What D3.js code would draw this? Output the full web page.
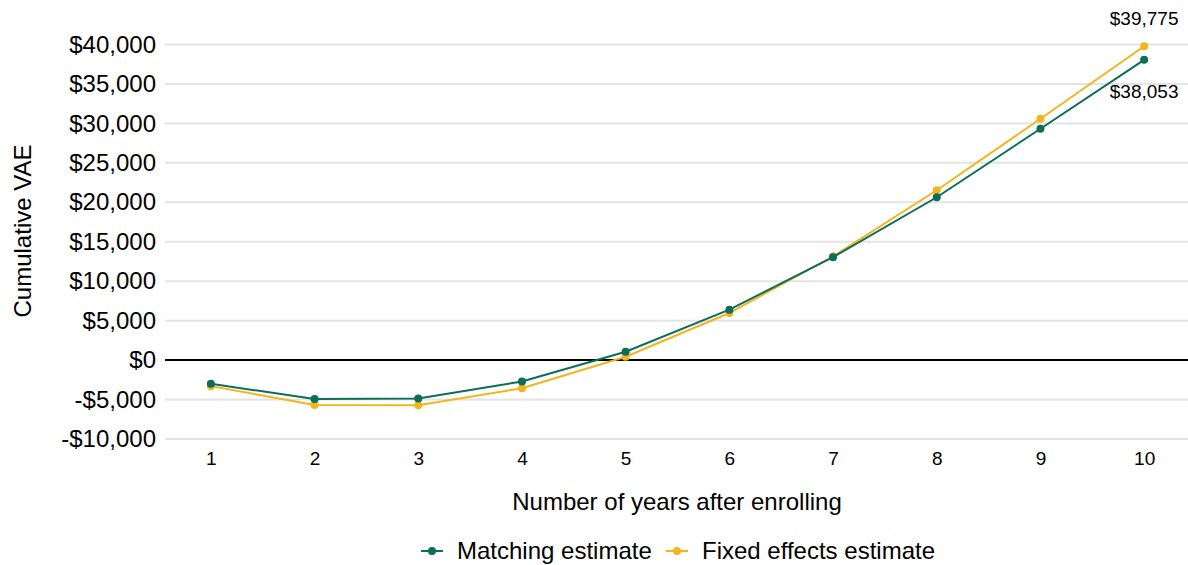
<!DOCTYPE html>
<html>
<head>
<meta charset="utf-8">
<script src="https://cdn.jsdelivr.net/npm/d3@7/dist/d3.min.js"></script>
<style>
  html, body { margin: 0; padding: 0; background: #ffffff; }
  svg { display: block; font-family: Arial, "Liberation Sans", sans-serif; }
</style>
</head>
<body>
<svg id="chart" width="1188" height="565"></svg>
<script>
// Years after enrolling
const years = [1, 2, 3, 4, 5, 6, 7, 8, 9, 10];
// Cumulative value-added estimates (dollars)
const matchingValues = [-3010, -4915, -4870, -2710, 1060, 6390, 13050, 20640, 29320, 38053];
const fixedValues = [-3300, -5680, -5720, -3560, 420, 5970, 13150, 21530, 30590, 39775];
const yTicks = [-10000, -5000, 0, 5000, 10000, 15000, 20000, 25000, 30000, 35000, 40000];
const seriesNames = ["Matching estimate", "Fixed effects estimate"];
const seriesColors = ["#0b6d5a", "#f2b61d"];

const svg = d3.select("#chart");

const x = d3.scalePoint().domain(years).range([159, 1196]).padding(0.5);
const y = d3.scaleLinear().domain([-10000, 40000]).range([439, 44.5]);

const money = v => (v < 0 ? "-$" : "$") + d3.format(",")(Math.abs(v));

// Horizontal gridlines
svg.append("g")
  .selectAll("line")
  .data(yTicks.filter(t => t !== 0))
  .join("line")
  .attr("x1", 165).attr("x2", 1188)
  .attr("y1", d => y(d)).attr("y2", d => y(d))
  .attr("stroke", "#e4e4e4").attr("stroke-width", 2);

// Zero baseline
svg.append("line")
  .attr("x1", 165).attr("x2", 1188)
  .attr("y1", y(0)).attr("y2", y(0))
  .attr("stroke", "#000").attr("stroke-width", 2);

// Y axis labels
const yAxis = d3.axisLeft(y).tickValues(yTicks).tickFormat(money).tickSize(0).tickPadding(0);
const gy = svg.append("g").attr("transform", "translate(156,0)").call(yAxis);
gy.select(".domain").remove();
gy.selectAll("text").attr("font-size", 24).attr("fill", "#000")
  .attr("font-family", "Arial, 'Liberation Sans', sans-serif");

// X axis labels
const xAxis = d3.axisBottom(x).tickSize(0).tickPadding(0);
const gx = svg.append("g").attr("transform", "translate(0,451)").call(xAxis);
gx.select(".domain").remove();
gx.selectAll("text").attr("font-size", 19).attr("fill", "#000")
  .attr("font-family", "Arial, 'Liberation Sans', sans-serif");

// Axis titles
svg.append("text")
  .attr("x", 677).attr("y", 510)
  .attr("text-anchor", "middle").attr("font-size", 24)
  .text("Number of years after enrolling");

svg.append("text")
  .attr("transform", "translate(31,231) rotate(-90)")
  .attr("text-anchor", "middle").attr("font-size", 24)
  .text("Cumulative VAE");

// Lines and markers: fixed effects first, matching on top
const line = d3.line().x((d, i) => x(years[i])).y(d => y(d));
const series = [
  { name: seriesNames[1], values: fixedValues, color: seriesColors[1] },
  { name: seriesNames[0], values: matchingValues, color: seriesColors[0] }
];

series.forEach(s => {
  svg.append("path")
    .datum(s.values)
    .attr("d", line)
    .attr("fill", "none")
    .attr("stroke", s.color)
    .attr("stroke-width", 2);
  svg.append("g")
    .selectAll("circle")
    .data(s.values)
    .join("circle")
    .attr("cx", (d, i) => x(years[i]))
    .attr("cy", d => y(d))
    .attr("r", 4)
    .attr("fill", s.color);
});

// End-point value labels
const last = years.length - 1;
svg.append("text")
  .attr("x", x(years[last])).attr("y", y(fixedValues[last]) - 21)
  .attr("text-anchor", "middle").attr("font-size", 19)
  .text(money(fixedValues[last]));
svg.append("text")
  .attr("x", x(years[last])).attr("y", y(matchingValues[last]) + 38)
  .attr("text-anchor", "middle").attr("font-size", 19)
  .text(money(matchingValues[last]));

// Legend
const legendItems = [
  { name: seriesNames[0], color: seriesColors[0], x: 421 },
  { name: seriesNames[1], color: seriesColors[1], x: 666 }
];
const lg = svg.append("g");
legendItems.forEach(item => {
  lg.append("line")
    .attr("x1", item.x).attr("x2", item.x + 22)
    .attr("y1", 551).attr("y2", 551)
    .attr("stroke", item.color).attr("stroke-width", 2);
  lg.append("circle")
    .attr("cx", item.x + 11).attr("cy", 551).attr("r", 4)
    .attr("fill", item.color);
  lg.append("text")
    .attr("x", item.x + 36).attr("y", 559)
    .attr("font-size", 24)
    .text(item.name);
});
</script>
</body>
</html>
